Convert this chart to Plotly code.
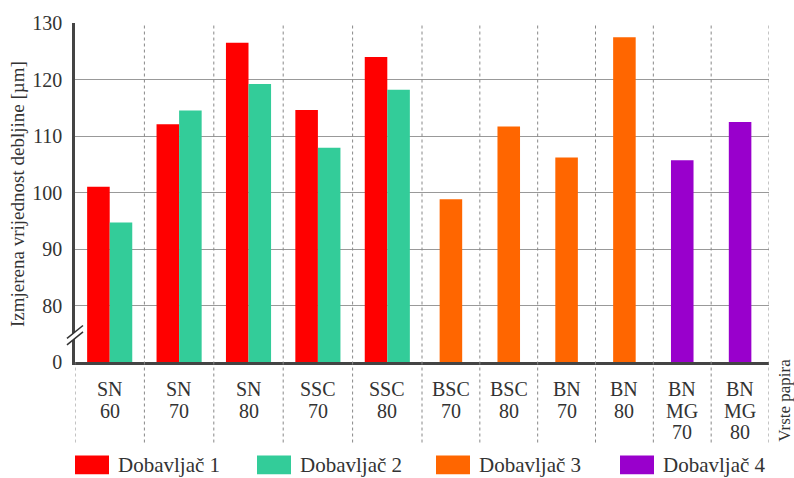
import plotly.graph_objects as go

# ---------------- data ----------------
cat_labels = ["SN 60", "SN 70", "SN 80", "SSC 70", "SSC 80", "BSC 70",
              "BSC 80", "BN 70", "BN 80", "BN MG 70", "BN MG 80"]
dob1 = [101.0, 112.1, 126.5, 114.6, 124.0, None, None, None, None, None, None]
dob2 = [94.7, 114.5, 119.2, 107.9, 118.2, None, None, None, None, None, None]
dob3 = [None, None, None, None, None, 98.8, 111.7, 106.2, 127.5, None, None]
dob4 = [None, None, None, None, None, None, None, None, None, 105.7, 112.5]
series_names = ["Dobavljač 1", "Dobavljač 2", "Dobavljač 3", "Dobavljač 4"]
series_colors = ["#FF0000", "#33CC99", "#FF6600", "#9900CC"]
y_tickvals = [70, 80, 90, 100, 110, 120, 130]
y_ticktext = ["0", "80", "90", "100", "110", "120", "130"]
x_title = "Vrste papira"
y_title = "Izmjerena vrijednost debljine [µm]"

series = [dob1, dob2, dob3, dob4]
FONT = "Liberation Serif"
TXT = "#333333"
W, H = 794, 478
ML, MR, MT, MB = 75, 25, 21, 116
PW = W - ML - MR
PH = H - MT - MB

# ---------------- category cell layout ----------------
n = len(cat_labels)
nbars = [sum(1 for s in series if s[i] is not None) for i in range(n)]
cell_w = [1.0 + 0.2 * (k - 1) for k in nbars]
bounds = [0.0]
for w in cell_w:
    bounds.append(bounds[-1] + w)
centers = [(bounds[i] + bounds[i + 1]) / 2 for i in range(n)]
BW = 0.39

fig = go.Figure()
for si, (s, name, col) in enumerate(zip(series, series_names, series_colors)):
    xs, ys = [], []
    for i in range(n):
        if s[i] is None:
            continue
        present = [j for j, ss in enumerate(series) if ss[i] is not None]
        k = present.index(si)
        off = (k - (len(present) - 1) / 2) * BW
        xs.append(centers[i] + off)
        ys.append(s[i])
    fig.add_trace(go.Bar(x=xs, y=ys, width=BW, name=name,
                         marker=dict(color=col, line=dict(width=0)),
                         showlegend=False, hoverinfo="skip"))

shapes = []
annotations = []
ybot_paper = -(443 - (H - MB)) / PH

# dashed cell separators
for bi, b in enumerate(bounds):
    y1 = 0 if bi == 0 else 1
    shapes.append(dict(type="line", xref="x", yref="paper", x0=b, x1=b,
                       y0=ybot_paper, y1=y1, layer="above",
                       line=dict(color="#888888", width=1, dash="dot")))

# axis break marks
px = 1.0 / PW
ppu = PH / (y_tickvals[-1] - y_tickvals[0])
yc = y_tickvals[0] + 27 / ppu
dxp, dyu, sep = 8 * px, 6.5 / ppu, 3.2 / ppu
shapes.append(dict(type="path", xref="paper", yref="y", layer="above",
                   path=f"M{-dxp},{yc - dyu + sep} L{dxp},{yc + dyu + sep} "
                        f"L{dxp},{yc + dyu - sep} L{-dxp},{yc - dyu - sep} Z",
                   fillcolor="white", line=dict(width=0)))
for s_ in (sep, -sep):
    shapes.append(dict(type="line", xref="paper", yref="y", layer="above",
                       x0=-dxp, x1=dxp, y0=yc - dyu + s_, y1=yc + dyu + s_,
                       line=dict(color="#333333", width=1.5)))

# category labels (one annotation per text line)
for i, lab in enumerate(cat_labels):
    for li, part in enumerate(lab.split(" ")):
        annotations.append(dict(x=centers[i], xref="x", y=0, yref="paper",
                                text=part, showarrow=False, xanchor="center",
                                yanchor="middle", height=20,
                                yshift=-(27 + li * 21.5),
                                font=dict(family=FONT, size=20, color=TXT)))

# axis titles
annotations.append(dict(x=(785 - ML) / PW, y=-(401 - (H - MB)) / PH,
                        xref="paper", yref="paper", text=x_title, textangle=-90,
                        xanchor="center", yanchor="middle",
                        showarrow=False, font=dict(family=FONT, size=17, color=TXT)))
annotations.append(dict(x=(18 - ML) / PW, y=((H - MB) - 193) / PH,
                        xref="paper", yref="paper", text=y_title, textangle=-90,
                        xanchor="center", yanchor="middle",
                        showarrow=False, font=dict(family=FONT, size=19, color=TXT)))

# manual legend
leg_x = [75, 257, 436, 620]
for name, col, lx in zip(series_names, series_colors, leg_x):
    x0 = (lx - ML) / PW
    x1 = (lx + 34 - ML) / PW
    y0 = -(475 - (H - MB)) / PH
    y1 = -(456 - (H - MB)) / PH
    shapes.append(dict(type="rect", xref="paper", yref="paper",
                       x0=x0, x1=x1, y0=y0, y1=y1, layer="above",
                       fillcolor=col, line=dict(width=0)))
    annotations.append(dict(x=(lx + 41 - ML) / PW, y=(y0 + y1) / 2,
                            xref="paper", yref="paper", text=name,
                            xanchor="left", yanchor="middle", showarrow=False,
                            font=dict(family=FONT, size=21, color=TXT)))

fig.update_layout(
    width=W, height=H,
    margin=dict(l=ML, r=MR, t=MT, b=MB),
    paper_bgcolor="white", plot_bgcolor="white",
    barmode="overlay", hovermode=False,
    shapes=shapes, annotations=annotations,
    xaxis=dict(range=[bounds[0], bounds[-1]], showticklabels=False,
               showgrid=False, zeroline=False, showline=True,
               linecolor="#444444", linewidth=2.5, ticks=""),
    yaxis=dict(range=[y_tickvals[0], y_tickvals[-1]], tickvals=y_tickvals,
               ticktext=y_ticktext, showgrid=True, gridcolor="#999999",
               gridwidth=1, zeroline=False, showline=True,
               linecolor="#444444", linewidth=2.5, ticks="",
               ticklabelstandoff=6,
               tickfont=dict(family=FONT, size=20, color=TXT)),
)

fig.write_html("out.html", config={"displayModeBar": False},
               post_script="document.body.style.margin='0';"
                           "document.body.style.overflow='hidden';")
